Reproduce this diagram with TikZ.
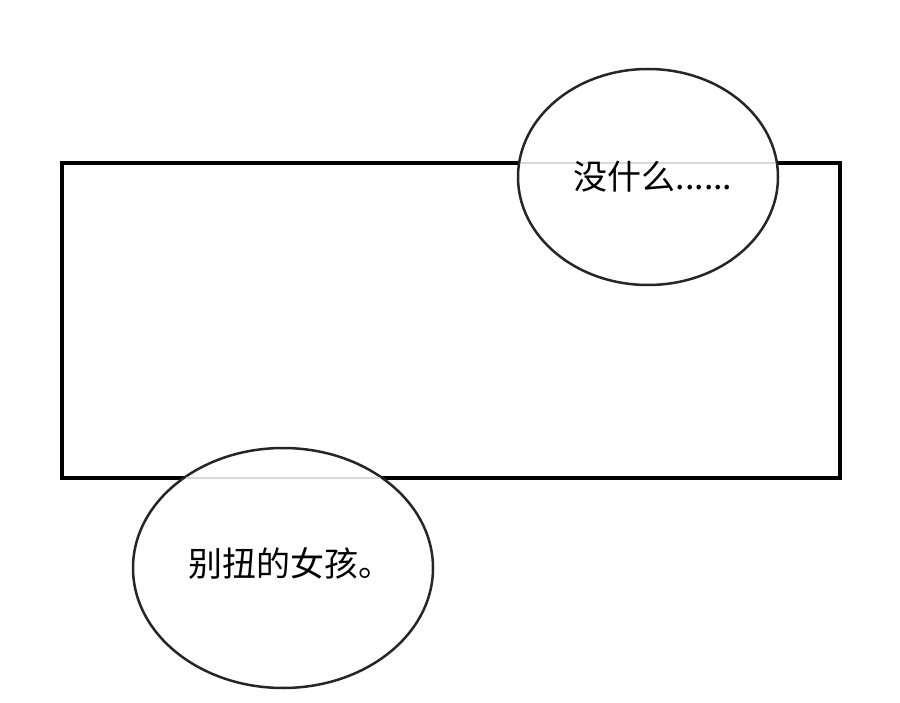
\documentclass[tikz,border=0pt]{standalone}
\usepackage{fontspec}
\setmainfont{Noto Sans CJK SC}
\usetikzlibrary{shapes.geometric}
\begin{document}
\begin{tikzpicture}[x=1pt,y=-1pt,
  bubble/.style={draw=black!85,line width=2.5pt,fill=white},
  faint/.style={draw=black!15,line width=2pt}]
\useasboundingbox (0,0) rectangle (900,703);
\draw[line width=4pt] (62,163) rectangle (840,478);
\path[bubble] (648,177) ellipse [x radius=130, y radius=108];
\path[bubble] (283,568) ellipse [x radius=150, y radius=120];
\coordinate (a1) at (521,163); \coordinate (a2) at (775,163);
\draw[faint] (a1) -- (a2);
\coordinate (b1) at (186,478); \coordinate (b2) at (380,478);
\draw[faint] (b1) -- (b2);
\node[font=\fontsize{34}{40}\selectfont,inner sep=0] (t1) at (653,177) {没什么......};
\node[font=\fontsize{34}{40}\selectfont,inner sep=0] (t2) at (290,563) {别扭的女孩。};
\end{tikzpicture}
\end{document}
